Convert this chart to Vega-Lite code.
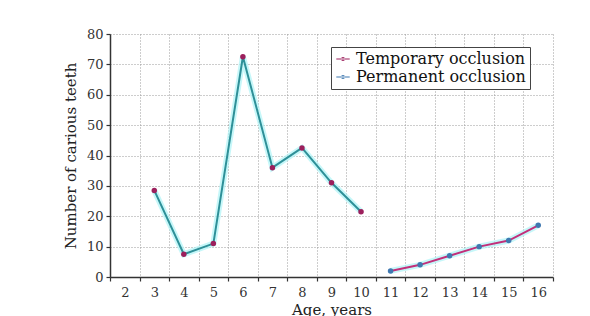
{
  "$schema": "https://vega.github.io/schema/vega-lite/v6.json",
  "width": 443,
  "height": 243,
  "autosize": {"type": "none"},
  "padding": {"left": 110, "top": 34, "right": 37, "bottom": 39},
  "background": "white",
  "config": {
    "view": {"stroke": null},
    "font": "DejaVu Serif",
    "axis": {
      "labelFont": "DejaVu Serif",
      "titleFont": "DejaVu Serif",
      "labelColor": "#333333",
      "titleColor": "#222222",
      "titleFontWeight": "normal",
      "domainColor": "#333333",
      "domainWidth": 1.5,
      "tickColor": "#333333",
      "tickWidth": 1.2,
      "gridColor": "#9a9a9a",
      "gridDash": [1, 2],
      "gridWidth": 1,
      "gridOpacity": 1
    }
  },
  "data": {
    "values": [
      {"age": 3, "teeth": 28.5, "series": "Temporary occlusion"},
      {"age": 4, "teeth": 7.5, "series": "Temporary occlusion"},
      {"age": 5, "teeth": 11, "series": "Temporary occlusion"},
      {"age": 6, "teeth": 72.5, "series": "Temporary occlusion"},
      {"age": 7, "teeth": 36, "series": "Temporary occlusion"},
      {"age": 8, "teeth": 42.5, "series": "Temporary occlusion"},
      {"age": 9, "teeth": 31, "series": "Temporary occlusion"},
      {"age": 10, "teeth": 21.5, "series": "Temporary occlusion"},
      {"age": 11, "teeth": 2, "series": "Permanent occlusion"},
      {"age": 12, "teeth": 4, "series": "Permanent occlusion"},
      {"age": 13, "teeth": 7, "series": "Permanent occlusion"},
      {"age": 14, "teeth": 10, "series": "Permanent occlusion"},
      {"age": 15, "teeth": 12, "series": "Permanent occlusion"},
      {"age": 16, "teeth": 17, "series": "Permanent occlusion"}
    ]
  },
  "encoding": {
    "x": {
      "field": "age",
      "type": "quantitative",
      "scale": {"domain": [1.5, 16.5], "nice": false, "zero": false},
      "axis": {
        "title": "Age, years",
        "titleFontSize": 15,
        "titlePadding": 3,
        "values": [1.5, 2.5, 3.5, 4.5, 5.5, 6.5, 7.5, 8.5, 9.5, 10.5, 11.5, 12.5, 13.5, 14.5, 15.5, 16.5],
        "labelExpr": "datum.value < 16 ? format(datum.value + 0.5, 'd') : ''",
        "labelOffset": 14.77,
        "labelFlush": false,
        "labelOverlap": false,
        "labelFontSize": 13,
        "labelPadding": 5,
        "tickSize": 4,
        "grid": true
      }
    },
    "y": {
      "field": "teeth",
      "type": "quantitative",
      "scale": {"domain": [0, 80], "nice": false},
      "axis": {
        "title": "Number of carious teeth",
        "titleFontSize": 15,
        "titlePadding": 8,
        "values": [0, 10, 20, 30, 40, 50, 60, 70, 80],
        "labelFontSize": 13,
        "labelPadding": 3,
        "tickSize": 4,
        "grid": true
      }
    }
  },
  "layer": [
    {
      "mark": {"type": "line", "strokeWidth": 6, "color": "#aef3f6", "opacity": 0.7},
      "encoding": {"detail": {"field": "series"}}
    },
    {
      "transform": [{"filter": "datum.series === 'Temporary occlusion'"}],
      "mark": {"type": "line", "strokeWidth": 2, "color": "#2e9098"},
      "encoding": {}
    },
    {
      "transform": [{"filter": "datum.series === 'Permanent occlusion'"}],
      "mark": {"type": "line", "strokeWidth": 2, "color": "#c22f7a"},
      "encoding": {}
    },
    {
      "mark": {"type": "point", "filled": true, "size": 30, "opacity": 1},
      "encoding": {
        "color": {
          "field": "series",
          "type": "nominal",
          "scale": {"domain": ["Temporary occlusion", "Permanent occlusion"], "range": ["#9c1f5c", "#3f78b0"]},
          "legend": {
            "title": null,
            "orient": "none",
            "legendX": 221,
            "legendY": 13,
            "strokeColor": "#444444",
            "fillColor": "white",
            "padding": 4,
            "labelFont": "DejaVu Serif",
            "labelFontSize": 16,
            "labelLimit": 0,
            "labelColor": "#111111",
            "labelOffset": 5,
            "rowPadding": 2,
            "symbolType": "M-1,-0.09H1V0.09H-1Z M-0.3,0A0.3,0.3 0 1,0 0.3,0A0.3,0.3 0 1,0 -0.3,0Z",
            "symbolSize": 180
          }
        }
      }
    }
  ]
}
